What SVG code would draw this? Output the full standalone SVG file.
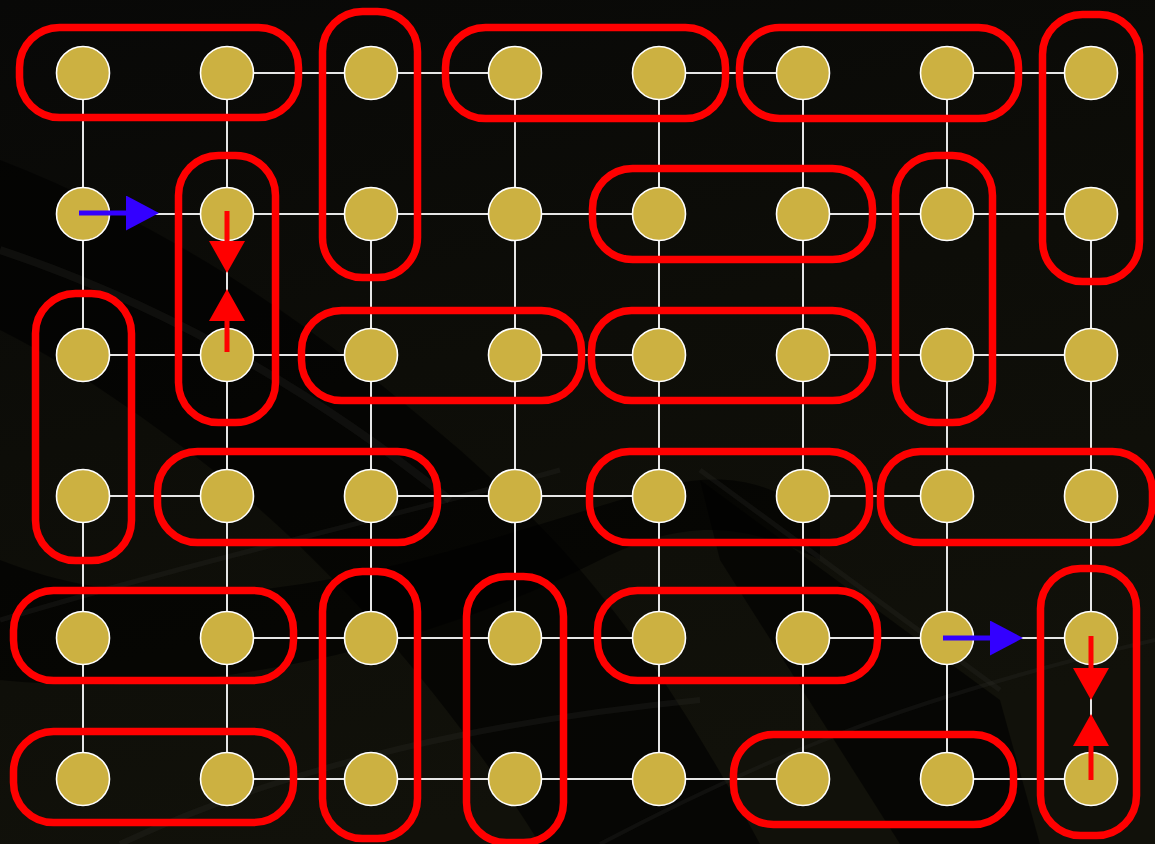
<svg xmlns="http://www.w3.org/2000/svg" width="1155" height="844" viewBox="0 0 1155 844">
  <defs>
    <linearGradient id="bg" x1="0" y1="0" x2="0.3" y2="1">
      <stop offset="0" stop-color="#080807"/>
      <stop offset="0.5" stop-color="#0d0d08"/>
      <stop offset="1" stop-color="#11110a"/>
    </linearGradient>
    <marker id="blueHead" viewBox="0 0 33 35" refX="0" refY="17.5" markerWidth="33" markerHeight="35" markerUnits="userSpaceOnUse" orient="auto">
      <path d="M0,0 L33,17.5 L0,35 z" fill="#3300ff"/>
    </marker>
    <marker id="redHead" viewBox="0 0 32 36" refX="0" refY="18" markerWidth="32" markerHeight="36" markerUnits="userSpaceOnUse" orient="auto">
      <path d="M0,0 L32,18 L0,36 z" fill="#ff0000"/>
    </marker>
    <style>
      .edge { stroke: #e6e6e6; stroke-width: 2; fill: none; }
      .node circle { fill: #ccb141; stroke: #ffffff; stroke-width: 1.6; }
      .domino { fill: none; stroke: #ff0000; stroke-width: 7.5; }
      .blue { stroke: #3300ff; stroke-width: 5; marker-end: url(#blueHead); }
      .red { stroke: #ff0000; stroke-width: 5; marker-end: url(#redHead); }
      .streak { fill: none; stroke: #30302c; stroke-opacity: 0.25; }
      .shadow { fill: #000000; fill-opacity: 0.6; }
    </style>
  </defs>

  <g id="background">
    <rect x="0" y="0" width="1155" height="844" fill="url(#bg)"/>
    <path class="shadow" d="M0,160 C180,230 320,330 460,450 C560,540 640,620 760,844 L540,844 C450,700 330,560 200,460 C120,400 60,360 0,330 z"/>
    <path class="shadow" d="M0,560 C200,640 420,560 620,500 C700,470 760,470 820,520 L820,560 C740,520 680,520 600,560 C420,650 200,700 0,680 z"/>
    <path class="shadow" d="M700,480 L1000,700 L1040,844 L900,844 L720,560 z"/>
    <path class="streak" stroke-width="8" d="M0,250 C150,300 300,380 450,500"/>
    <path class="streak" stroke-width="5" d="M0,620 C200,560 380,520 560,470"/>
    <path class="streak" stroke-width="6" d="M120,844 C300,760 500,720 700,700"/>
    <path class="streak" stroke-width="4" d="M600,844 C760,760 900,700 1155,640"/>
    <path class="streak" stroke-width="5" d="M700,470 L1000,690"/>
  </g>

  <g id="connectors">
    <path class="edge" d="M227,73 H515 M659,73 H803 M947,73 H1091
      M83,214 H659 M803,214 H1091
      M83,355 H371 M515,355 H659 M803,355 H1091
      M83,496 H227 M371,496 H659 M803,496 H947
      M227,638 H659 M803,638 H1091
      M227,779 H803 M947,779 H1091
      M83,73 V355 M83,496 V779
      M227,73 V779
      M371,214 V638
      M515,73 V638
      M659,73 V779
      M803,73 V779
      M947,73 V214 M947,355 V779
      M1091,214 V779"/>
  </g>

  <g id="nodes">
    <g id="n-0-0" class="node"><circle cx="83" cy="73" r="26.5"/></g>
    <g id="n-0-1" class="node"><circle cx="227" cy="73" r="26.5"/></g>
    <g id="n-0-2" class="node"><circle cx="371" cy="73" r="26.5"/></g>
    <g id="n-0-3" class="node"><circle cx="515" cy="73" r="26.5"/></g>
    <g id="n-0-4" class="node"><circle cx="659" cy="73" r="26.5"/></g>
    <g id="n-0-5" class="node"><circle cx="803" cy="73" r="26.5"/></g>
    <g id="n-0-6" class="node"><circle cx="947" cy="73" r="26.5"/></g>
    <g id="n-0-7" class="node"><circle cx="1091" cy="73" r="26.5"/></g>

    <g id="n-1-0" class="node"><circle cx="83" cy="214" r="26.5"/></g>
    <g id="n-1-1" class="node"><circle cx="227" cy="214" r="26.5"/></g>
    <g id="n-1-2" class="node"><circle cx="371" cy="214" r="26.5"/></g>
    <g id="n-1-3" class="node"><circle cx="515" cy="214" r="26.5"/></g>
    <g id="n-1-4" class="node"><circle cx="659" cy="214" r="26.5"/></g>
    <g id="n-1-5" class="node"><circle cx="803" cy="214" r="26.5"/></g>
    <g id="n-1-6" class="node"><circle cx="947" cy="214" r="26.5"/></g>
    <g id="n-1-7" class="node"><circle cx="1091" cy="214" r="26.5"/></g>

    <g id="n-2-0" class="node"><circle cx="83" cy="355" r="26.5"/></g>
    <g id="n-2-1" class="node"><circle cx="227" cy="355" r="26.5"/></g>
    <g id="n-2-2" class="node"><circle cx="371" cy="355" r="26.5"/></g>
    <g id="n-2-3" class="node"><circle cx="515" cy="355" r="26.5"/></g>
    <g id="n-2-4" class="node"><circle cx="659" cy="355" r="26.5"/></g>
    <g id="n-2-5" class="node"><circle cx="803" cy="355" r="26.5"/></g>
    <g id="n-2-6" class="node"><circle cx="947" cy="355" r="26.5"/></g>
    <g id="n-2-7" class="node"><circle cx="1091" cy="355" r="26.5"/></g>

    <g id="n-3-0" class="node"><circle cx="83" cy="496" r="26.5"/></g>
    <g id="n-3-1" class="node"><circle cx="227" cy="496" r="26.5"/></g>
    <g id="n-3-2" class="node"><circle cx="371" cy="496" r="26.5"/></g>
    <g id="n-3-3" class="node"><circle cx="515" cy="496" r="26.5"/></g>
    <g id="n-3-4" class="node"><circle cx="659" cy="496" r="26.5"/></g>
    <g id="n-3-5" class="node"><circle cx="803" cy="496" r="26.5"/></g>
    <g id="n-3-6" class="node"><circle cx="947" cy="496" r="26.5"/></g>
    <g id="n-3-7" class="node"><circle cx="1091" cy="496" r="26.5"/></g>

    <g id="n-4-0" class="node"><circle cx="83" cy="638" r="26.5"/></g>
    <g id="n-4-1" class="node"><circle cx="227" cy="638" r="26.5"/></g>
    <g id="n-4-2" class="node"><circle cx="371" cy="638" r="26.5"/></g>
    <g id="n-4-3" class="node"><circle cx="515" cy="638" r="26.5"/></g>
    <g id="n-4-4" class="node"><circle cx="659" cy="638" r="26.5"/></g>
    <g id="n-4-5" class="node"><circle cx="803" cy="638" r="26.5"/></g>
    <g id="n-4-6" class="node"><circle cx="947" cy="638" r="26.5"/></g>
    <g id="n-4-7" class="node"><circle cx="1091" cy="638" r="26.5"/></g>

    <g id="n-5-0" class="node"><circle cx="83" cy="779" r="26.5"/></g>
    <g id="n-5-1" class="node"><circle cx="227" cy="779" r="26.5"/></g>
    <g id="n-5-2" class="node"><circle cx="371" cy="779" r="26.5"/></g>
    <g id="n-5-3" class="node"><circle cx="515" cy="779" r="26.5"/></g>
    <g id="n-5-4" class="node"><circle cx="659" cy="779" r="26.5"/></g>
    <g id="n-5-5" class="node"><circle cx="803" cy="779" r="26.5"/></g>
    <g id="n-5-6" class="node"><circle cx="947" cy="779" r="26.5"/></g>
    <g id="n-5-7" class="node"><circle cx="1091" cy="779" r="26.5"/></g>
  </g>

  <g id="dominoes">
    <rect id="d1" class="domino" x="19.5" y="27.5" width="279" height="90" rx="40"/>
    <rect id="d2" class="domino" x="322.5" y="11.5" width="95" height="266" rx="40"/>
    <rect id="d3" class="domino" x="445.5" y="27.5" width="280" height="91" rx="40"/>
    <rect id="d4" class="domino" x="739.5" y="27.5" width="279" height="91" rx="40"/>
    <rect id="d5" class="domino" x="1042.5" y="14.5" width="97" height="267" rx="40"/>
    <rect id="d6" class="domino" x="178.5" y="155.5" width="97" height="267" rx="40"/>
    <rect id="d7" class="domino" x="592.5" y="168.5" width="280" height="91" rx="40"/>
    <rect id="d8" class="domino" x="895.5" y="155.5" width="97" height="267" rx="40"/>
    <rect id="d9" class="domino" x="35.5" y="293.5" width="96" height="267" rx="40"/>
    <rect id="d10" class="domino" x="301.5" y="310.5" width="280" height="90" rx="40"/>
    <rect id="d11" class="domino" x="591.5" y="310.5" width="281" height="90" rx="40"/>
    <rect id="d12" class="domino" x="157.5" y="451.5" width="280" height="91" rx="40"/>
    <rect id="d13" class="domino" x="589.5" y="451.5" width="280" height="91" rx="40"/>
    <rect id="d14" class="domino" x="880.5" y="451.5" width="272" height="91" rx="40"/>
    <rect id="d15" class="domino" x="13.5" y="590.5" width="280" height="90" rx="40"/>
    <rect id="d16" class="domino" x="322.5" y="571.5" width="95" height="267" rx="40"/>
    <rect id="d17" class="domino" x="466.5" y="576.5" width="97" height="266" rx="40"/>
    <rect id="d18" class="domino" x="597.5" y="590.5" width="280" height="90" rx="40"/>
    <rect id="d19" class="domino" x="1040.5" y="568.5" width="96" height="267" rx="40"/>
    <rect id="d20" class="domino" x="13.5" y="731.5" width="280" height="91" rx="40"/>
    <rect id="d21" class="domino" x="733.5" y="734.5" width="280" height="90" rx="40"/>
  </g>

  <g id="arrows">
    <line class="blue" x1="79" y1="213" x2="126" y2="213"/>
    <line class="red" x1="227" y1="211" x2="227" y2="241"/>
    <line class="red" x1="227" y1="352" x2="227" y2="321"/>
    <line class="blue" x1="943" y1="638" x2="990" y2="638"/>
    <line class="red" x1="1091" y1="636" x2="1091" y2="668"/>
    <line class="red" x1="1091" y1="780" x2="1091" y2="746"/>
  </g>
</svg>
